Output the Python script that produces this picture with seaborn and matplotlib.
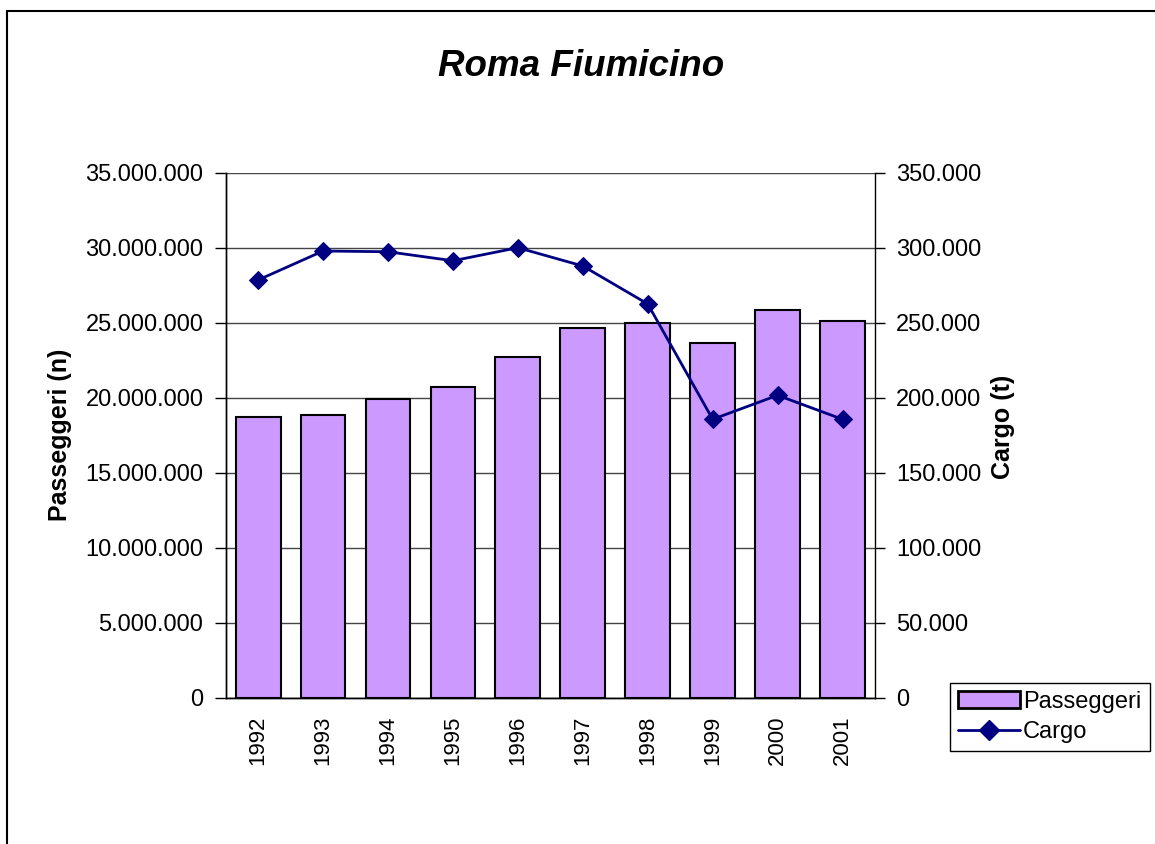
import matplotlib
matplotlib.use("Agg")
import matplotlib.pyplot as plt
from matplotlib.lines import Line2D
from matplotlib.patches import Patch
import numpy as np
import seaborn as sns

# Values
years = ['1992', '1993', '1994', '1995', '1996', '1997', '1998', '1999', '2000', '2001']
passeggeri = [18710000, 18850000, 19910000, 20710000, 22710000,
              24630000, 25000000, 23630000, 25870000, 25130000]
cargo = [278500, 297800, 297300, 291300, 300000,
         287800, 262500, 185600, 201600, 185600]

sns.set_style("white")
plt.rcParams['font.family'] = ['Liberation Sans', 'DejaVu Sans']
plt.rcParams['text.color'] = 'black'
plt.rcParams['xtick.color'] = 'black'
plt.rcParams['ytick.color'] = 'black'

W, H = 1155, 844
fig = plt.figure(figsize=(W / 100, H / 100), dpi=100)
ax = fig.add_axes([225.7 / W, (H - 697.7) / H, (875 - 225.7) / W, (697.7 - 172.7) / H])

# bars for passengers
sns.barplot(x=years, y=passeggeri, ax=ax, color='#CC99FF', saturation=1,
            edgecolor='black', linewidth=1.5, width=0.69, zorder=2)
ax.set_xlim(-0.5, len(years) - 0.5)
ax.set_ylim(0, 35000000)
ax.set_yticks(np.arange(0, 35000001, 5000000))
ax.set_yticklabels([f"{int(v):,}".replace(",", ".") for v in ax.get_yticks()], fontsize=17)
ax.set_axisbelow(True)
ax.grid(axis='y', color='#444444', linewidth=1)
ax.grid(axis='x', visible=False)

# years centred, tick marks between categories
ax.set_xticks(np.arange(len(years)))
ax.set_xticklabels(years, rotation=90, fontsize=16)
ax.set_xticks(np.arange(-0.5, len(years), 1), minor=True)
ax.tick_params(axis='x', which='major', length=0, pad=13)
ax.tick_params(axis='x', which='minor', length=7, width=1, direction='inout', color='black')
ax.tick_params(axis='y', length=8, width=1, direction='out', pad=8, color='black', left=True)
ax.set_xlabel('')
ax.set_ylabel('')

# line for cargo on the secondary axis
ax2 = ax.twinx()
sns.lineplot(x=np.arange(len(years)), y=cargo, ax=ax2, color='#000080', linewidth=2,
             marker='D', markersize=9, markeredgecolor='#000080', zorder=3)
ax2.set_ylim(0, 350000)
ax2.set_yticks(np.arange(0, 350001, 50000))
ax2.set_yticklabels([f"{int(v):,}".replace(",", ".") for v in ax2.get_yticks()], fontsize=17)
ax2.tick_params(axis='y', length=7, width=1, direction='out', pad=8, color='black', right=True)
ax2.set_xlim(-0.5, len(years) - 0.5)
ax2.grid(False)

for a in (ax, ax2):
    a.spines['top'].set_visible(False)
    for s in ('left', 'right', 'bottom'):
        a.spines[s].set_color('black')
        a.spines[s].set_linewidth(1)
ax.spines['right'].set_visible(False)

fig.text(581.5 / W, 1 - 67 / H, 'Roma Fiumicino', ha='center', va='center',
         fontsize=26.5, fontweight='bold', fontstyle='italic')
fig.text(60 / W, 1 - 435 / H, 'Passeggeri (n)', ha='center', va='center',
         rotation=90, fontsize=18, fontweight='bold')
fig.text(1003 / W, 1 - 426.5 / H, 'Cargo (t)', ha='center', va='center',
         rotation=90, fontsize=18, fontweight='bold')

handles = [Patch(facecolor='#CC99FF', edgecolor='black', linewidth=2),
           Line2D([0], [0], color='#000080', linewidth=2, marker='D', markersize=10)]
leg = fig.legend(handles, ['Passeggeri', 'Cargo'], loc='upper left',
                 bbox_to_anchor=(950 / W, 1 - 682.7 / H), fontsize=17,
                 frameon=True, fancybox=False, edgecolor='black', framealpha=1,
                 handlelength=2.6, handletextpad=0.15, borderpad=0.35,
                 labelspacing=0.35, borderaxespad=0)
leg.get_frame().set_linewidth(1)

# outer chart frame (only left and top visible in the reference)
fig.add_artist(Line2D([7 / W, 7 / W], [0, 1 - 10.5 / H], transform=fig.transFigure,
                      color='black', linewidth=1.5))
fig.add_artist(Line2D([7 / W, 1], [1 - 10.5 / H, 1 - 10.5 / H], transform=fig.transFigure,
                      color='black', linewidth=1.5))

fig.savefig('out.png', dpi=100)
